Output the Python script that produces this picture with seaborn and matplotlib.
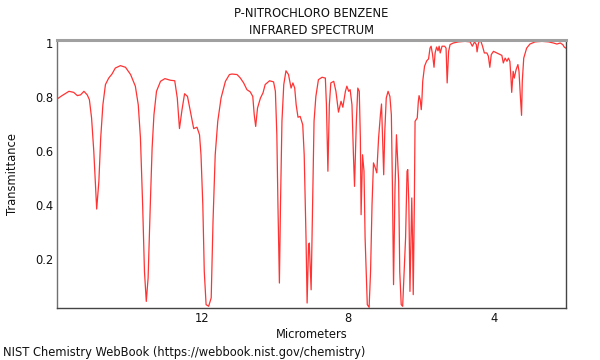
import matplotlib
matplotlib.use("Agg")
import matplotlib.pyplot as plt
import seaborn as sns
import pandas as pd
from matplotlib.ticker import MultipleLocator

title_lines = ["P-NITROCHLORO BENZENE", "INFRARED SPECTRUM"]
x_label = "Micrometers"
y_label = "Transmittance"
footer = "NIST Chemistry WebBook (https://webbook.nist.gov/chemistry)"

wavelength_um = [
    15.97, 15.84, 15.65, 15.52, 15.42, 15.33, 15.24, 15.15, 15.09, 15.03,
    14.97, 14.92, 14.89, 14.83, 14.78, 14.72, 14.65, 14.56, 14.47, 14.38,
    14.24, 14.10, 13.96, 13.83, 13.75, 13.69, 13.63, 13.58, 13.53, 13.48,
    13.42, 13.37, 13.32, 13.25, 13.14, 13.02, 12.87, 12.75, 12.68, 12.62,
    12.55, 12.48, 12.40, 12.32, 12.23, 12.14, 12.07, 12.03, 11.98, 11.94,
    11.89, 11.82, 11.75, 11.70, 11.64, 11.57, 11.48, 11.36, 11.25, 11.18,
    11.04, 10.95, 10.86, 10.77, 10.68, 10.61, 10.57, 10.53, 10.48, 10.40,
    10.33, 10.27, 10.15, 10.04, 9.99, 9.95, 9.92, 9.88, 9.85, 9.81,
    9.76, 9.70, 9.63, 9.56, 9.51, 9.46, 9.42, 9.37, 9.31, 9.24,
    9.20, 9.15, 9.12, 9.08, 9.06, 9.01, 8.97, 8.93, 8.88, 8.81,
    8.71, 8.62, 8.59, 8.55, 8.51, 8.47, 8.39, 8.33, 8.26, 8.19,
    8.14, 8.07, 8.03, 7.98, 7.94, 7.89, 7.85, 7.82, 7.77, 7.73,
    7.69, 7.66, 7.64, 7.60, 7.56, 7.53, 7.47, 7.42, 7.38, 7.34,
    7.30, 7.25, 7.21, 7.16, 7.11, 7.08, 7.05, 7.02, 6.99, 6.95,
    6.90, 6.85, 6.81, 6.78, 6.75, 6.71, 6.67, 6.61, 6.58, 6.54,
    6.50, 6.46, 6.42, 6.38, 6.36, 6.33, 6.30, 6.27, 6.25, 6.23,
    6.21, 6.18, 6.16, 6.13, 6.10, 6.07, 6.05, 6.02, 5.99, 5.97,
    5.95, 5.90, 5.84, 5.79, 5.75, 5.72, 5.68, 5.64, 5.61, 5.57,
    5.53, 5.50, 5.47, 5.42, 5.35, 5.31, 5.28, 5.24, 5.20, 5.11,
    4.97, 4.79, 4.65, 4.59, 4.53, 4.48, 4.46, 4.42, 4.37, 4.31,
    4.26, 4.19, 4.15, 4.11, 4.07, 4.01, 3.92, 3.83, 3.78, 3.74,
    3.69, 3.64, 3.60, 3.56, 3.53, 3.51, 3.47, 3.44, 3.39, 3.34,
    3.31, 3.27, 3.24, 3.22, 3.18, 3.10, 3.01, 2.87, 2.68, 2.50,
    2.37, 2.27, 2.18, 2.11, 2.07, 2.03,
]

transmittance = [
    0.793, 0.805, 0.821, 0.817, 0.805, 0.808, 0.821, 0.808, 0.790, 0.722,
    0.600, 0.463, 0.385, 0.488, 0.648, 0.771, 0.846, 0.870, 0.885, 0.907,
    0.916, 0.910, 0.883, 0.840, 0.771, 0.648, 0.401, 0.154, 0.043, 0.130,
    0.401, 0.611, 0.734, 0.821, 0.858, 0.868, 0.862, 0.860, 0.796, 0.683,
    0.753, 0.812, 0.802, 0.747, 0.683, 0.688, 0.660, 0.586, 0.401, 0.154,
    0.031, 0.025, 0.056, 0.340, 0.586, 0.710, 0.796, 0.858, 0.883, 0.885,
    0.883, 0.870, 0.852, 0.827, 0.819, 0.802, 0.734, 0.691, 0.759, 0.796,
    0.815, 0.846, 0.860, 0.856, 0.821, 0.660, 0.401, 0.111, 0.401, 0.710,
    0.846, 0.897, 0.883, 0.833, 0.852, 0.833, 0.771, 0.725, 0.728, 0.697,
    0.586, 0.278, 0.037, 0.253, 0.259, 0.086, 0.401, 0.710, 0.802, 0.864,
    0.873, 0.870, 0.771, 0.525, 0.771, 0.852, 0.858, 0.821, 0.744, 0.784,
    0.762, 0.821, 0.840, 0.821, 0.827, 0.771, 0.586, 0.469, 0.710, 0.833,
    0.821, 0.648, 0.364, 0.586, 0.525, 0.278, 0.031, 0.021, 0.154, 0.401,
    0.556, 0.537, 0.519, 0.648, 0.734, 0.774, 0.648, 0.512, 0.673, 0.796,
    0.821, 0.802, 0.734, 0.463, 0.105, 0.463, 0.660, 0.488, 0.154, 0.031,
    0.025, 0.154, 0.278, 0.525, 0.531, 0.401, 0.080, 0.278, 0.426, 0.278,
    0.068, 0.401, 0.710, 0.716, 0.722, 0.784, 0.805, 0.790, 0.753, 0.796,
    0.858, 0.914, 0.934, 0.941, 0.981, 0.988, 0.957, 0.910, 0.963, 0.985,
    0.971, 0.988, 0.963, 0.988, 0.988, 0.981, 0.852, 0.969, 0.994, 1.000,
    1.004, 1.006, 1.004, 0.988, 1.004, 0.994, 0.967, 1.000, 1.012, 0.988,
    0.963, 0.963, 0.951, 0.910, 0.957, 0.969, 0.963, 0.957, 0.954, 0.926,
    0.944, 0.932, 0.944, 0.932, 0.870, 0.817, 0.895, 0.870, 0.901, 0.920,
    0.895, 0.796, 0.732, 0.858, 0.944, 0.981, 0.996, 1.004, 1.006, 1.004,
    1.000, 0.996, 1.000, 0.994, 0.985, 0.981,
]

x_ticks = [12, 8, 4]
y_ticks = [0.2, 0.4, 0.6, 0.8, 1.0]
y_tick_labels = ["0.2", "0.4", "0.6", "0.8", "1"]

df = pd.DataFrame({"um": wavelength_um, "T": transmittance})

sns.set_style("white")
plt.rcParams["font.family"] = ["DejaVu Sans"]

FS = 8.3

fig = plt.figure(figsize=(6, 3.6), dpi=100)
ax = fig.add_axes([0.0955, 0.1444, 0.8473, 0.7445])

sns.lineplot(data=df, x="um", y="T", ax=ax, sort=False, estimator=None,
             color="#ff3333", linewidth=0.9)

ax.set_xlim(15.97, 2.03)
ax.set_ylim(0.0185, 1.011)

ax.set_xticks(x_ticks)
ax.set_xticklabels([str(t) for t in x_ticks])
ax.xaxis.set_minor_locator(MultipleLocator(1))
ax.set_yticks(y_ticks)
ax.set_yticklabels(y_tick_labels)
ax.yaxis.set_minor_locator(MultipleLocator(0.05))

ax.tick_params(axis="both", which="major", direction="in", length=5, width=0.8,
               color="#444444", labelsize=FS, labelcolor="#111111", pad=3)
ax.tick_params(axis="both", which="minor", direction="in", length=3, width=0.8,
               color="#444444")

ax.spines["top"].set_color("#a0a0a0")
ax.spines["top"].set_linewidth(2.2)
ax.spines["left"].set_color("#707070")
ax.spines["left"].set_linewidth(1.0)
ax.spines["bottom"].set_color("#444444")
ax.spines["bottom"].set_linewidth(1.0)
ax.spines["right"].set_color("#444444")
ax.spines["right"].set_linewidth(1.0)

ax.set_xlabel(x_label, fontsize=FS, labelpad=2, color="#111111")
ax.set_ylabel("")
fig.text(0.021, 0.5167, y_label, rotation=90, ha="center", va="center",
         fontsize=FS, color="#111111")

fig.text(0.519, 0.963, title_lines[0], ha="center", va="center", fontsize=FS, color="#111111")
fig.text(0.519, 0.916, title_lines[1], ha="center", va="center", fontsize=FS, color="#111111")
fig.text(0.005, 0.022, footer, ha="left", va="center", fontsize=FS, color="#111111")

fig.savefig("out.png", dpi=100)
